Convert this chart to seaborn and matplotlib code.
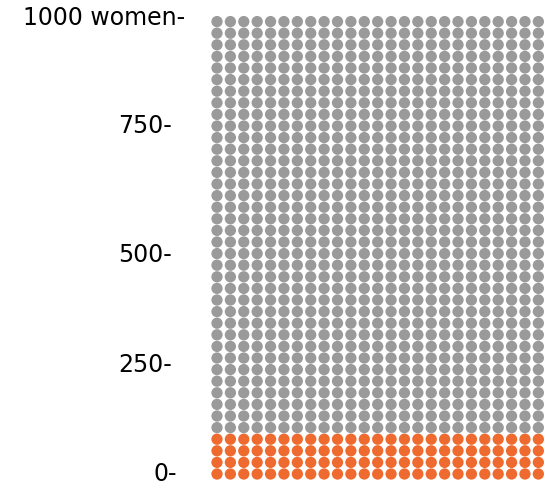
import numpy as np
import pandas as pd
import matplotlib
matplotlib.use("Agg")
import matplotlib.pyplot as plt
import matplotlib.transforms as mtransforms
import seaborn as sns

# Out of 1000 women: how many are affected vs not
groups = ["affected", "not affected"]
group_counts = [100, 900]
group_colors = ["#ef6a2e", "#9a9a9a"]

# y-axis labels (in women)
tick_values = [0, 250, 500, 750, 1000]
tick_labels = ["0-", "250-", "500-", "750-", "1000 women-"]

n_cols = 25

# One dot per woman, filled row by row from the bottom
labels = np.repeat(groups, group_counts)
idx = np.arange(len(labels))
df = pd.DataFrame({
    "col": idx % n_cols,
    "women": (idx // n_cols) * n_cols,
    "group": labels,
})

sns.set_theme(style="white")
plt.rcParams["font.family"] = ["DejaVu Sans"]

W, H = 544, 490
fig = plt.figure(figsize=(W / 100, H / 100), dpi=100)

# axes placed in pixel terms: 25 columns x 40 rows
col_step, row_step = 13.39, 11.6
left_px = 217 - col_step / 2
bottom_px = H - (474 + row_step / 2)
ax = fig.add_axes([left_px / W, bottom_px / H,
                   n_cols * col_step / W, 40 * row_step / H])

sns.scatterplot(data=df, x="col", y="women", hue="group",
                hue_order=groups, palette=group_colors,
                s=66, linewidth=0, legend=False, ax=ax, clip_on=False)

ax.set_xlim(-0.5, n_cols - 0.5)
ax.set_ylim(-n_cols / 2, 1000 - n_cols / 2)
ax.set_axis_off()

# tick labels on the left, right-aligned next to the dots
label_right_px = [177, 172, 172, 172, 185]
label_dy_px = [0, -7, -13, 0, -8]
for v, lab, rx, dy in zip(tick_values, tick_labels, label_right_px, label_dy_px):
    tr = mtransforms.blended_transform_factory(fig.transFigure, ax.transData)
    tr = tr + mtransforms.ScaledTranslation(0, dy / 100, fig.dpi_scale_trans)
    fig.text(rx / W, v, lab, transform=tr, ha="right", va="center",
             fontsize=17, color="#000000")

fig.savefig("out.png", dpi=100)
